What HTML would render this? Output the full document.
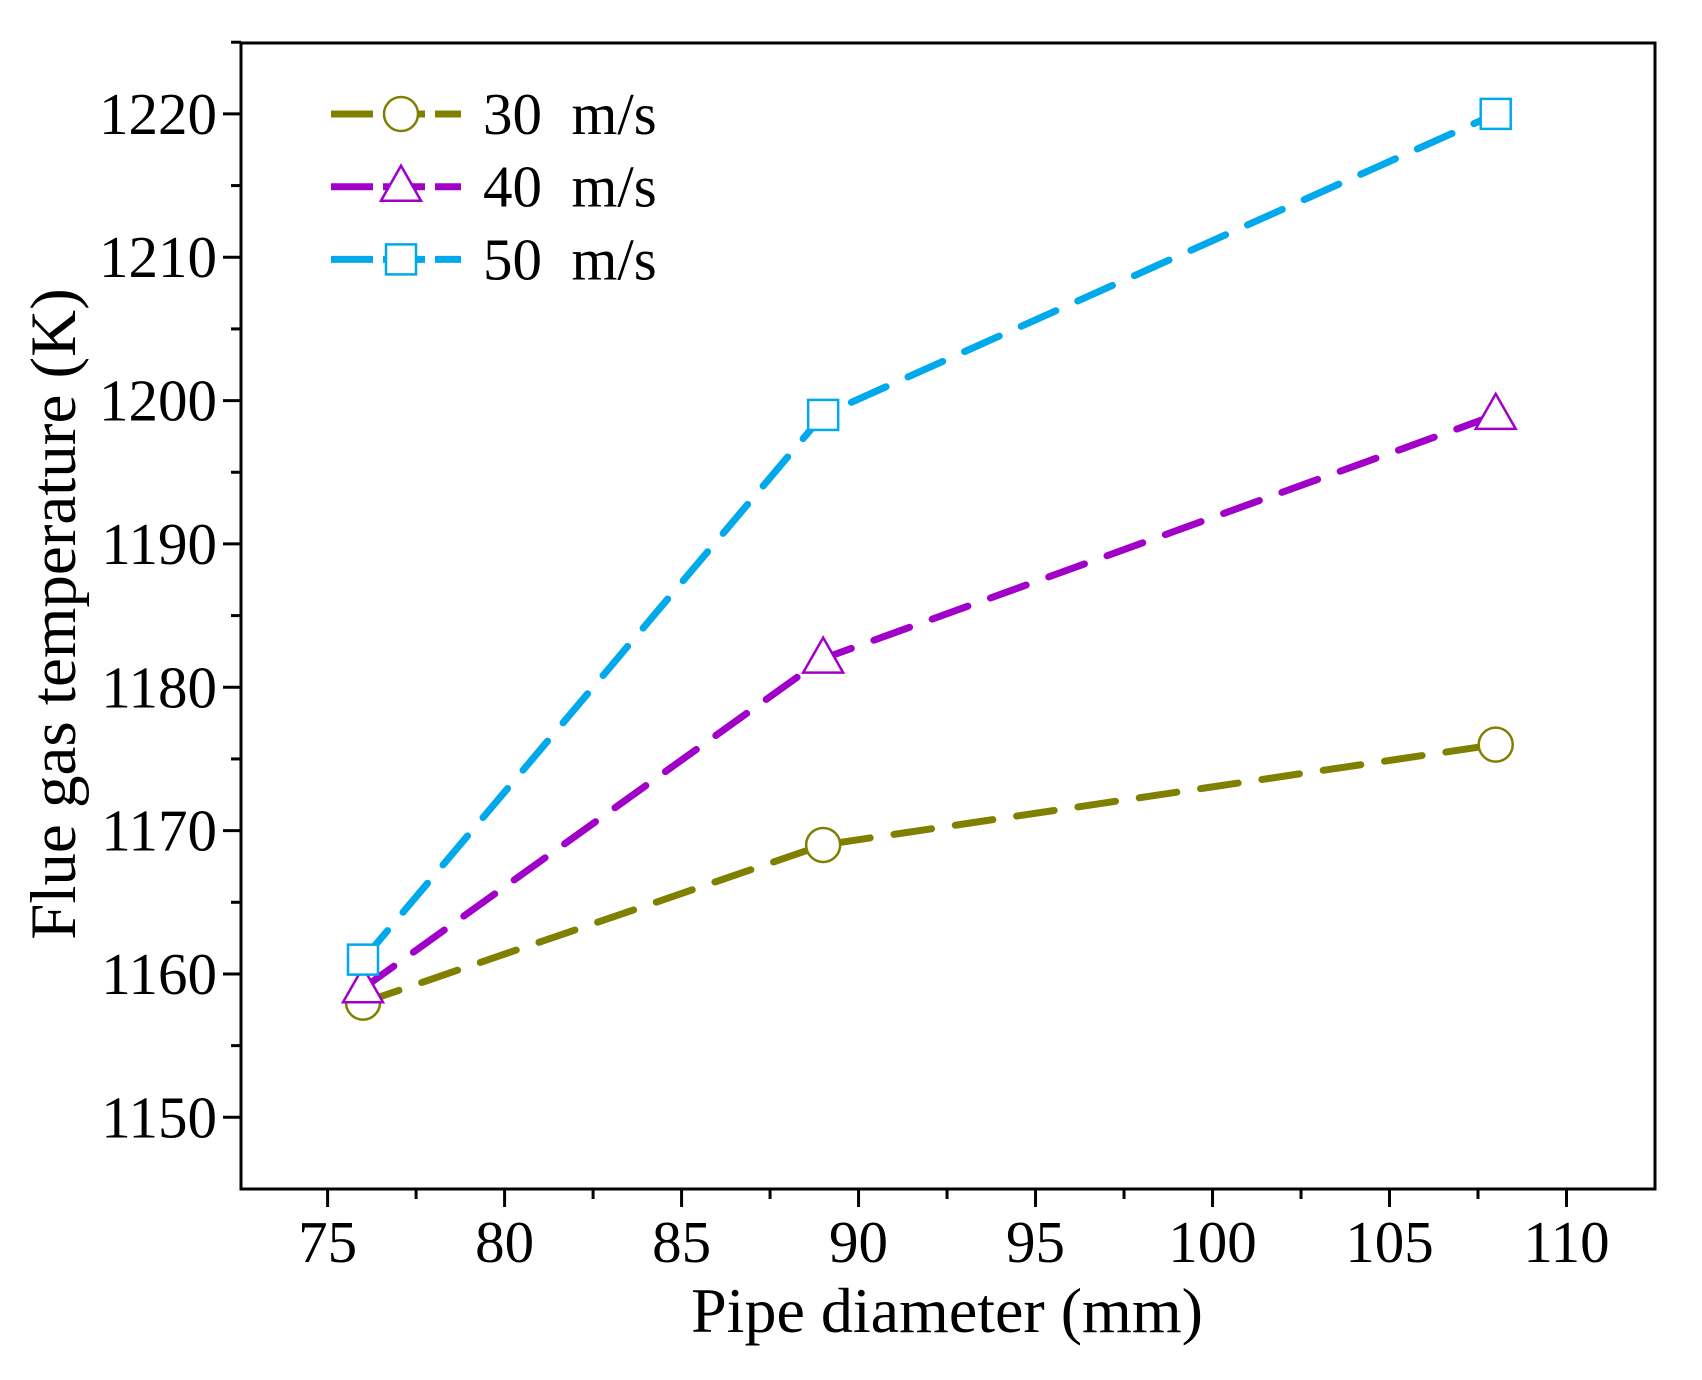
<!DOCTYPE html>
<html><head><meta charset="utf-8"><style>
html,body{margin:0;padding:0;background:#fff;}
svg text{font-family:"Liberation Serif",serif;fill:#000;}
</style></head><body>
<svg id="chart" width="1702" height="1375" viewBox="0 0 1702 1375" xmlns="http://www.w3.org/2000/svg">
<rect x="0" y="0" width="1702" height="1375" fill="#fff"/>
<g id="axes"></g><g id="series"></g><g id="legend"></g>
</svg>
<script>
const xCats=[76,89,108];
const s30=[1158,1169,1176];
const s40=[1159,1182,1199];
const s50=[1161,1199,1220];
const xTicks=[75,80,85,90,95,100,105,110];
const yTicks=[1150,1160,1170,1180,1190,1200,1210,1220];
const seriesNames=["30\u00a0\u00a0m/s","40\u00a0\u00a0m/s","50\u00a0\u00a0m/s"];
const NS="http://www.w3.org/2000/svg";
const L=241,R=1655,T=43,B=1189;
function xs(v){return 327.6+(v-75)*(1566.5-327.6)/35;}
function ys(v){return 1117.3-(v-1150)*(1117.3-113.9)/70;}
function mk(tag,attrs,parent){const e=document.createElementNS(NS,tag);for(const k in attrs)e.setAttribute(k,attrs[k]);parent.appendChild(e);return e;}
const axes=document.getElementById('axes');
const frame=mk('rect',{x:L,y:T,width:R-L,height:B-T,fill:'none',stroke:'#000','stroke-width':3},axes);


xTicks.forEach((v,i)=>{
  const x=xs(v);
  const t=mk('line',{x1:x,y1:B,x2:x,y2:B+18,stroke:'#000','stroke-width':3},axes);
  
  
  if(i<xTicks.length-1){const xm=xs(v+2.5);const m=mk('line',{x1:xm,y1:B,x2:xm,y2:B+10,stroke:'#000','stroke-width':3},axes);
  
  }
  const lb=mk('text',{x:x,y:1262,'font-size':59,'text-anchor':'middle'},axes);lb.textContent=v;
  
  
});
yTicks.forEach((v,i)=>{
  const y=ys(v);
  const t=mk('line',{x1:L,y1:y,x2:L-18,y2:y,stroke:'#000','stroke-width':3},axes);
  
  
  const ym=ys(v+5);const m=mk('line',{x1:L,y1:ym,x2:L-10,y2:ym,stroke:'#000','stroke-width':3},axes);
  
  
  const lb=mk('text',{x:217,y:y+20,'font-size':59,'text-anchor':'end'},axes);lb.textContent=v;
  
  
});
const xt=mk('text',{x:947,y:1332,'font-size':64,'text-anchor':'middle'},axes);xt.textContent='Pipe diameter (mm)';


const yt=mk('text',{x:0,y:0,'font-size':65,'text-anchor':'middle',transform:'translate(75,614) rotate(-90)'},axes);yt.textContent='Flue gas temperature (K)';


const colors=['#808000','#a000c8','#00a8ec'];
const data=[s30,s40,s50];
const shapes=['circle','triangle','square'];
const sg=document.getElementById('series');
function marker(g,shape,x,y,c){
  let e;
  if(shape==='circle')e=mk('circle',{cx:x,cy:y,r:17,fill:'#fff',stroke:c,'stroke-width':2.5},g);
  else if(shape==='triangle')e=mk('polygon',{points:`${x},${y-21} ${x-20},${y+14} ${x+20},${y+14}`,fill:'#fff',stroke:c,'stroke-width':2.5},g);
  else e=mk('rect',{x:x-15,y:y-15,width:30,height:30,fill:'#fff',stroke:c,'stroke-width':2.5},g);
  return e;
}
data.forEach((arr,si)=>{
  const g=mk('g',{},sg);
  
  
  const pts=arr.map((v,i)=>xs(xCats[i])+','+ys(v)).join(' ');
  const pl=mk('polyline',{points:pts,fill:'none',stroke:colors[si],'stroke-width':7,'stroke-dasharray':'38 24','stroke-linecap':'round'},g);
  
  
  arr.forEach((v,i)=>{
    const m=marker(g,shapes[si],xs(xCats[i]),ys(v),colors[si]);
    
    
  });
});
const lg=document.getElementById('legend');


seriesNames.forEach((n,i)=>{
  const y=114+i*72.7;
  const g=mk('g',{},lg);
  
  
  mk('line',{x1:331,y1:y,x2:461,y2:y,stroke:colors[i],'stroke-width':7,'stroke-dasharray':'42 10'},g);
  marker(g,shapes[i],401,y,colors[i]);
  const t=mk('text',{x:483,y:y+20,'font-size':59},g);t.textContent=n;
  
  
});
</script>
</body></html>
